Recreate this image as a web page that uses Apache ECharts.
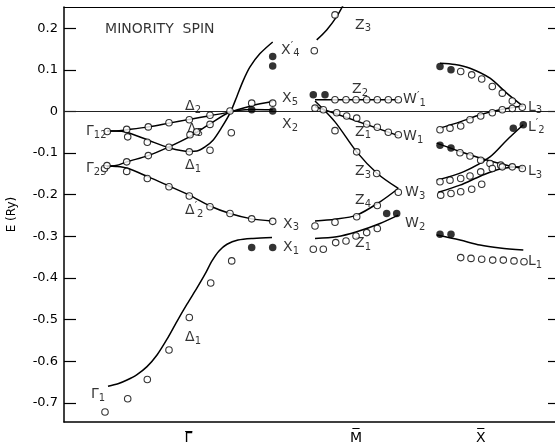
<!DOCTYPE html>
<html><head><meta charset="utf-8">
<script src="https://cdn.jsdelivr.net/npm/echarts@6/dist/echarts.min.js"></script>
<style>html,body{margin:0;padding:0;background:#fff}#c{width:555px;height:445px}</style>
</head><body><div id="c"></div>
<script>
// Energy E in Ry; k = position along the symmetry path (arbitrary units)
const yTicks = [-0.7, -0.6, -0.5, -0.4, -0.3, -0.2, -0.1, 0, 0.1, 0.2];
const kTicks = [12.43, 29.2, 41.67];
const kTickLabels = ['\u0393\u0305', 'M\u0305', 'X\u0305'];

// ---- Gamma - X section: calculated bands ----
const curveGamma1 = [[4.40,-0.660],[5.40,-0.654],[6.30,-0.645],[7.30,-0.632],[8.30,-0.613],[9.30,-0.585],[10.30,-0.547],[11.30,-0.504],[12.30,-0.463],[13.30,-0.424],[14.10,-0.391],[14.80,-0.359],[15.50,-0.335],[16.30,-0.319],[17.40,-0.309],[18.90,-0.305],[20.80,-0.303]];
const curveDelta2p = [[4.27,-0.131],[5.20,-0.132],[6.27,-0.136],[8.43,-0.157],[10.50,-0.179],[12.53,-0.201],[14.60,-0.227],[16.60,-0.245],[18.77,-0.258],[20.77,-0.263]];
const curveGamma25Up = [[4.27,-0.131],[5.20,-0.130],[6.27,-0.121],[8.43,-0.106],[10.50,-0.085],[12.53,-0.061],[14.60,-0.030],[16.60,-0.002],[18.77,0.005],[20.87,0.004]];
const curveDelta2 = [[4.33,-0.047],[5.20,-0.047],[6.27,-0.044],[8.43,-0.037],[10.50,-0.028],[12.53,-0.019],[14.60,-0.010],[16.60,-0.001],[18.77,0.014],[20.87,0.024]];
const curveDelta1 = [[4.33,-0.047],[5.20,-0.047],[6.27,-0.050],[8.43,-0.069],[10.50,-0.087],[12.53,-0.096],[13.30,-0.095],[14.10,-0.085],[14.90,-0.069],[15.80,-0.037],[16.60,-0.004],[17.27,0.035],[17.90,0.073],[18.60,0.107],[19.60,0.139],[20.87,0.167]];

// ---- M section ----
const curveZ3top = [[25.27,0.172],[26.27,0.196],[27.27,0.228],[27.93,0.256]];
const curveZ2 = [[25.10,0.028],[33.43,0.028]];
const curveZ1 = [[25.10,0.012],[33.43,-0.058]];
const curveZ3 = [[25.10,0.025],[27.10,-0.025],[29.27,-0.097],[31.33,-0.149],[33.43,-0.185]];
const curveZ4 = [[25.10,-0.263],[27.10,-0.259],[29.27,-0.249],[31.60,-0.217],[33.43,-0.185]];
const curveZ1low = [[25.10,-0.305],[27.27,-0.301],[29.27,-0.289],[31.60,-0.269],[33.43,-0.249]];

// ---- X section ----
const curveL3a = [[37.60,0.116],[39.10,0.113],[40.60,0.104],[42.60,0.080],[44.27,0.044],[45.93,0.012]];
const curveL3b = [[37.60,-0.040],[39.60,-0.025],[41.60,-0.008],[43.60,0.004],[45.93,0.013]];
const curveL2p = [[37.27,-0.165],[39.93,-0.145],[42.60,-0.109],[44.27,-0.069],[45.93,-0.032]];
const curveL3c = [[37.27,-0.076],[39.60,-0.096],[41.93,-0.114],[44.27,-0.129],[45.93,-0.137]];
const curveL3d = [[37.43,-0.194],[39.60,-0.177],[41.67,-0.155],[43.60,-0.138],[45.93,-0.133]];
const curveL1 = [[37.27,-0.297],[39.60,-0.309],[41.60,-0.321],[43.60,-0.328],[45.93,-0.333]];

// ---- experimental points ----
const openGX = [[4.05,-0.137],[4.30,-0.130],[4.33,-0.048],
 [6.27,-0.043],[6.37,-0.061],[6.27,-0.121],[6.27,-0.144],
 [8.43,-0.037],[8.33,-0.074],[8.43,-0.106],[8.33,-0.161],
 [10.50,-0.027],[10.50,-0.086],[10.50,-0.181],
 [12.53,-0.020],[12.53,-0.097],[12.60,-0.056],[13.27,-0.049],[12.53,-0.203],
 [14.60,-0.009],[14.60,-0.031],[14.60,-0.093],[14.60,-0.229],
 [16.60,0.001],[16.73,-0.051],[16.60,-0.245],
 [18.77,0.020],[18.77,-0.258],[20.87,0.020],[20.87,-0.264],
 [4.10,-0.722],[6.37,-0.690],[8.33,-0.644],[10.50,-0.573],[12.53,-0.495],[14.67,-0.412],[16.77,-0.359]];
const filledGX = [[20.87,0.132],[20.87,0.109],[18.77,0.004],[20.87,0.001],[18.77,-0.327],[20.87,-0.327]];
const openM = [[25.03,0.146],[27.10,0.232],
 [27.10,0.028],[28.20,0.028],[29.20,0.028],[30.27,0.028],[31.33,0.028],[32.43,0.028],[33.43,0.028],
 [25.10,0.008],[25.93,0.004],[27.27,-0.003],[28.27,-0.011],[29.27,-0.016],[30.27,-0.030],[31.33,-0.038],[32.43,-0.050],[33.43,-0.056],
 [27.10,-0.046],[29.27,-0.097],[31.27,-0.149],[33.43,-0.194],
 [25.10,-0.275],[27.10,-0.266],[29.27,-0.253],[31.33,-0.226],
 [24.93,-0.331],[25.93,-0.331],[27.17,-0.315],[28.20,-0.311],[29.20,-0.299],[30.27,-0.291],[31.33,-0.281]];
const filledM = [[24.93,0.040],[26.10,0.040],[32.27,-0.245],[33.27,-0.245]];
const openX = [[39.67,0.096],[40.77,0.088],[41.77,0.078],[42.83,0.060],[43.83,0.044],[44.83,0.025],[45.83,0.010],
 [37.60,-0.044],[38.60,-0.040],[39.67,-0.035],[40.60,-0.020],[41.67,-0.011],[42.83,-0.003],[43.83,0.004],[44.83,0.007],
 [39.60,-0.099],[40.60,-0.107],[41.67,-0.117],[42.60,-0.125],[43.67,-0.129],[44.83,-0.133],[45.83,-0.137],
 [37.60,-0.169],[38.60,-0.165],[39.67,-0.161],[40.60,-0.155],[41.67,-0.145],[42.83,-0.137],[43.83,-0.133],
 [37.67,-0.201],[38.70,-0.197],[39.67,-0.193],[40.77,-0.187],[41.77,-0.175],
 [39.67,-0.351],[40.70,-0.353],[41.77,-0.355],[42.87,-0.357],[43.93,-0.357],[45.00,-0.359],[46.00,-0.361]];
const filledX = [[37.60,0.108],[38.70,0.100],[44.93,-0.040],[45.93,-0.032],[37.60,-0.081],[38.70,-0.088],[37.60,-0.295],[38.70,-0.295]];

// ---- annotation labels (position in data units, rich text) ----
const labelPos = [[4.10,0.198],[2.20,-0.047],[2.20,-0.136],[2.70,-0.679],[12.10,0.013],[12.30,-0.042],[12.10,-0.129],[12.10,-0.237],[12.10,-0.542],
 [21.70,0.148],[21.80,0.032],[21.80,-0.030],[21.90,-0.270],[21.90,-0.326],
 [29.10,0.208],[28.80,0.052],[33.90,0.028],[29.10,-0.049],[33.90,-0.059],[29.10,-0.145],[34.10,-0.194],[29.10,-0.213],[34.10,-0.268],[29.10,-0.316],
 [46.40,0.011],[46.40,-0.037],[46.40,-0.145],[46.40,-0.359]];
const labelText = ['{h|MINORITY  SPIN}','{m|\u0393}{s|12}','{m|\u0393}{s|25}','{m|\u0393}{s|1}','{m|\u0394}{s|2}','{m|\u0394}{s|5}','{m|\u0394}{s|1}','{m|\u0394}{p|\u2032}{s|2}','{m|\u0394}{s|1}',
 '{m|X}{p|\u2032}{s|4}','{m|X}{s|5}','{m|X}{s|2}','{m|X}{s|3}','{m|X}{s|1}',
 '{m|Z}{s|3}','{m|Z}{s|2}','{m|W}{p|\u2032}{s|1}','{m|Z}{s|1}','{m|W}{s|1}','{m|Z}{s|3}','{m|W}{s|3}','{m|Z}{s|4}','{m|W}{s|2}','{m|Z}{s|1}',
 '{m|L}{s|3}','{m|L}{p|\u2032}{s|2}','{m|L}{s|3}','{m|L}{s|1}'];

const FONT = 'DejaVu Sans';
const curves = [curveGamma1, curveDelta2p, curveGamma25Up, curveDelta2, curveDelta1,
  curveZ3top, curveZ2, curveZ1, curveZ3, curveZ4, curveZ1low,
  curveL3a, curveL3b, curveL2p, curveL3c, curveL3d, curveL1];
const straight = new Set([curveZ2, curveZ1]);

const series = [];
series.push({type:'line', data:[[0,0],[49.1,0]], symbol:'none', lineStyle:{color:'#222', width:1.2}, z:1, silent:true});
curves.forEach(c => series.push({type:'line', data:c, symbol:'none', smooth: straight.has(c) ? false : 0.3,
  lineStyle:{color:'#000', width:1.5}, z:3, silent:true}));
series.push({type:'scatter', data:labelPos.map((p,i)=>({value:p, name:labelText[i]})), symbolSize:0.1,
  itemStyle:{color:'rgba(0,0,0,0)'}, z:2, silent:true,
  label:{show:true, position:'right', distance:0, color:'#000', fontFamily:FONT,
    formatter: p => p.name,
    rich:{
      h:{fontSize:14, fontFamily:FONT, color:'#000'},
      m:{fontSize:14, fontFamily:FONT, color:'#000', lineHeight:18, verticalAlign:'middle'},
      s:{fontSize:10, fontFamily:FONT, color:'#000', lineHeight:10, verticalAlign:'bottom'},
      p:{fontSize:11, fontFamily:FONT, color:'#000', lineHeight:10, verticalAlign:'top'}
    }}});
const openStyle = {color:'#fff', borderColor:'#000', borderWidth:1.1};
[openGX, openM, openX].forEach(d => series.push({type:'scatter', data:d, symbol:'circle', symbolSize:6.5, itemStyle:openStyle, z:5, silent:true}));
[filledGX, filledM, filledX].forEach(d => series.push({type:'scatter', data:d, symbol:'circle', symbolSize:7.5, itemStyle:{color:'#000'}, z:6, silent:true}));

const chart = echarts.init(document.getElementById('c'), null, {renderer:'canvas'});
chart.setOption({
  animation:false,
  backgroundColor:'#fff',
  grid:{left:64, right:0, top:7, bottom:23, containLabel:false, outerBoundsMode:'none'},
  xAxis:[
    {type:'value', min:0, max:49.1, position:'bottom',
     axisLine:{show:true, onZero:false, lineStyle:{color:'#000', width:1.5}}, axisTick:{show:false}, splitLine:{show:false},
     axisLabel:{customValues:kTicks, formatter:v => kTickLabels[kTicks.indexOf(v)] || '', fontSize:14, fontFamily:FONT, color:'#000', margin:9}},
    {type:'value', min:0, max:49.1, position:'top',
     axisLine:{show:true, onZero:false, lineStyle:{color:'#000', width:1.2}}, axisTick:{show:false}, axisLabel:{show:false}, splitLine:{show:false}}
  ],
  yAxis:[
    {type:'value', min:-0.746, max:0.251, position:'left',
     axisLine:{show:true, onZero:false, lineStyle:{color:'#000', width:1.5}},
     axisTick:{show:true, inside:true, length:12, customValues:yTicks, lineStyle:{color:'#000', width:1.2}},
     axisLabel:{customValues:yTicks, formatter:v => (Math.abs(v)<1e-9 ? '0' : v.toFixed(1)), fontSize:13, fontFamily:FONT, color:'#000', margin:6},
     splitLine:{show:false},
     name:'E (Ry)', nameLocation:'middle', nameGap:46, nameTextStyle:{fontSize:12, fontFamily:FONT, color:'#000'}},
    {type:'value', min:-0.746, max:0.251, position:'right',
     axisLine:{show:false, onZero:false}, axisTick:{show:true, inside:true, length:7, customValues:yTicks, lineStyle:{color:'#000', width:1.2}},
     axisLabel:{show:false}, splitLine:{show:false}}
  ],
  series: series
});
</script></body></html>
